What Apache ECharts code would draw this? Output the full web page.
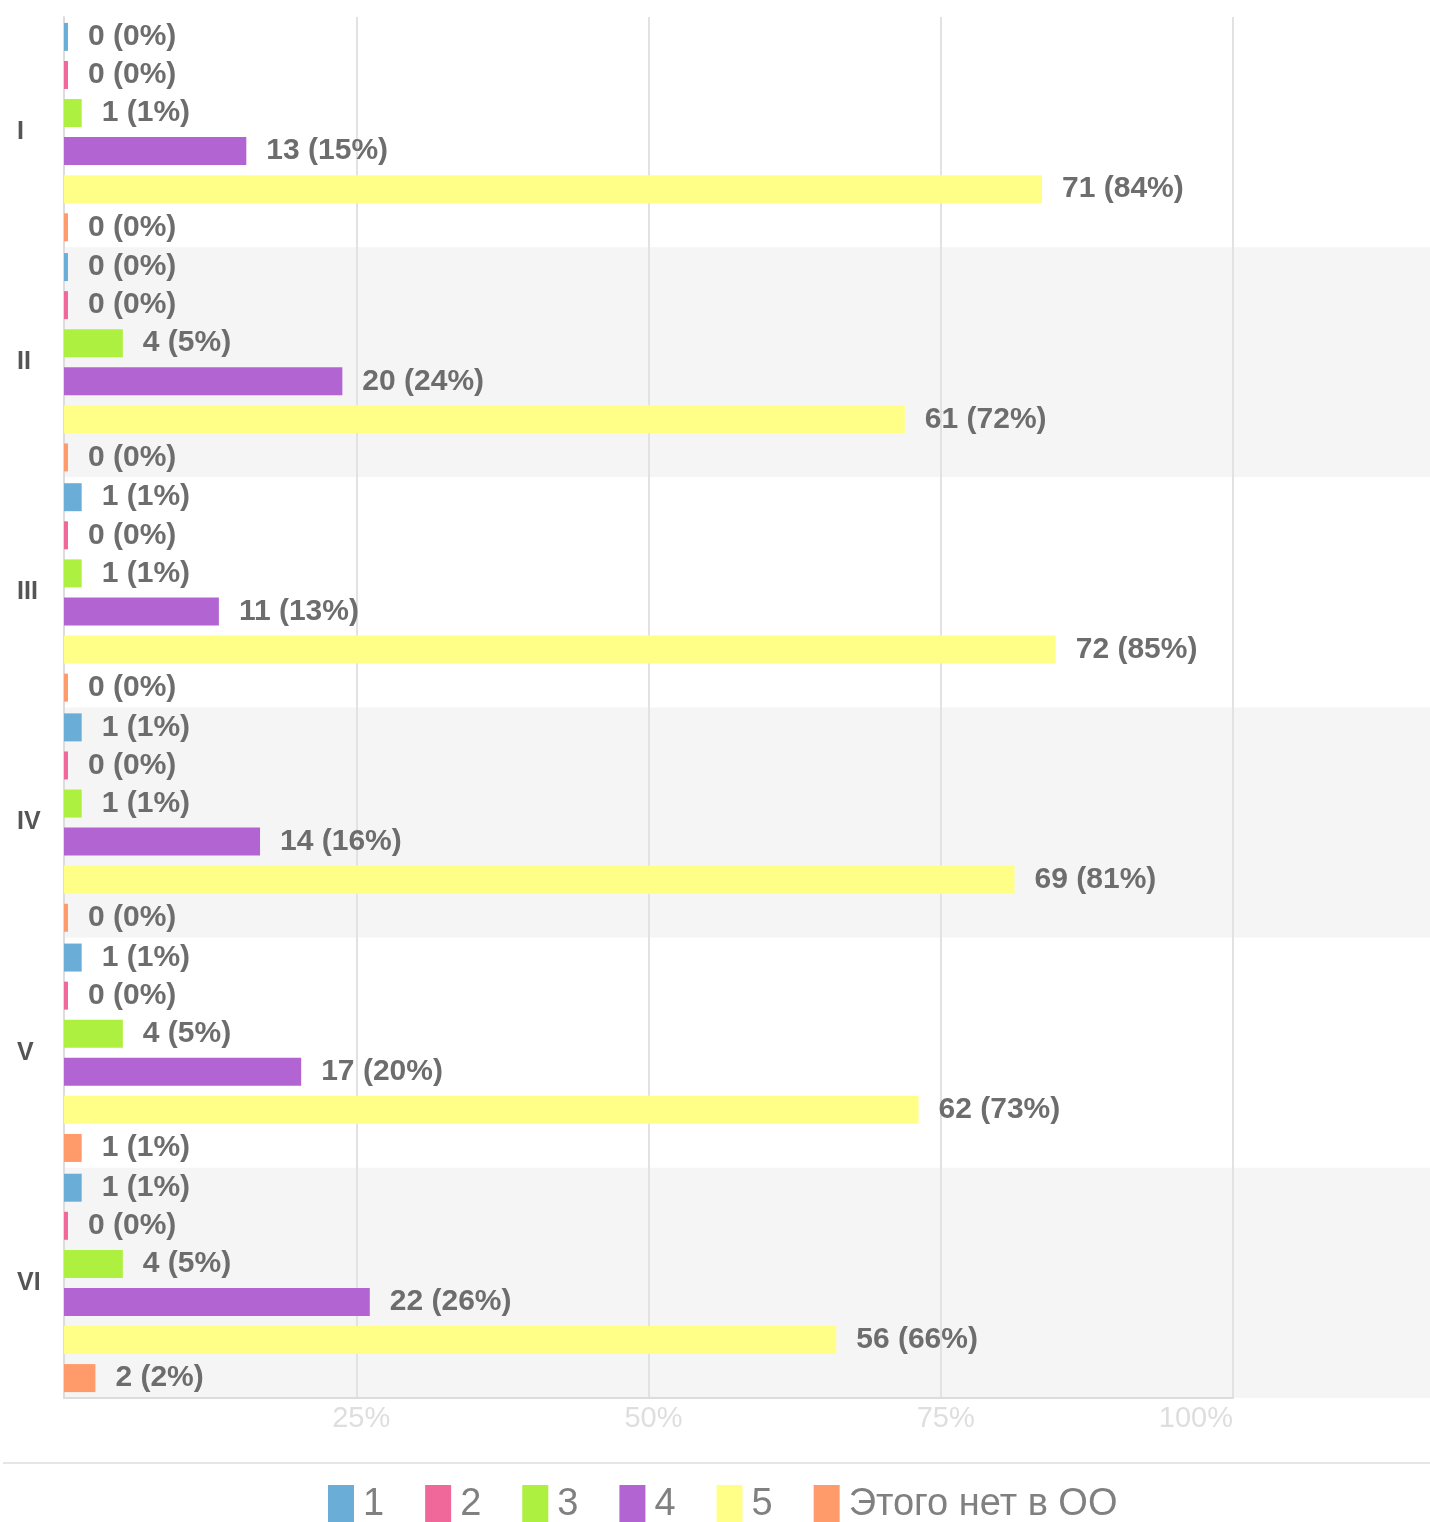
<!DOCTYPE html>
<html><head><meta charset="utf-8">
<script src="https://cdn.jsdelivr.net/npm/echarts@6/dist/echarts.min.js"></script>
<style>html,body{margin:0;padding:0;background:#fff}#c{width:1430px;height:1522px}</style>
</head><body><div id="c"></div>
<script>
const categories = ['I', 'II', 'III', 'IV', 'V', 'VI'];
const seriesNames = ['1', '2', '3', '4', '5', 'Этого нет в ОО'];
const s1 = [0, 0, 1, 1, 1, 1];
const s2 = [0, 0, 0, 0, 0, 0];
const s3 = [1, 4, 1, 1, 4, 4];
const s4 = [13, 20, 11, 14, 17, 22];
const s5 = [71, 61, 72, 69, 62, 56];
const s6 = [0, 0, 0, 0, 1, 2];
const tickLabels = [25, 50, 75, 100];
const colors = ['#6aaed8', '#f0679a', '#aef03f', '#b264d2', '#ffff88', '#ff9a6a'];

const all = [s1, s2, s3, s4, s5, s6];
const totals = categories.map((c, i) => all.reduce((a, s) => a + s[i], 0));

const chart = echarts.init(document.getElementById('c'));
const series = all.map((s, k) => ({
  name: seriesNames[k],
  type: 'bar',
  xAxisIndex: 0, yAxisIndex: 0,
  barWidth: 28,
  barGap: '36%',
  barMinHeight: 3,
  itemStyle: { color: colors[k] },
  z: 3,
  label: {
    show: true, position: 'right', distance: 20,
    fontFamily: 'Liberation Sans, Arial, sans-serif', fontWeight: 'bold', fontSize: 30,
    color: '#6d6d6d',
    formatter: p => s[p.dataIndex] + ' (' + Math.round(s[p.dataIndex] / totals[p.dataIndex] * 100) + '%)'
  },
  data: s.map((v, i) => v / totals[i] * 100)
}));

chart.setOption({
  animation: false,
  color: colors,
  grid: [
    { left: 64, right: 0, top: 17, bottom: 124, containLabel: false },
    { left: 64, right: 197, top: 17, bottom: 124, containLabel: false }
  ],
  xAxis: [
    { gridIndex: 0, type: 'value', min: -0.34, max: 116.8, startValue: -0.34, show: false, splitLine: { show: false } },
    { gridIndex: 1, type: 'value', min: 0, max: 100, interval: 25,
      axisLine: { show: true, lineStyle: { color: '#dcdcdc', width: 2 } },
      axisTick: { show: false },
      splitLine: { show: true, lineStyle: { color: '#e2e2e2', width: 2 } },
      axisLabel: { margin: 6, fontFamily: 'Liberation Sans, Arial, sans-serif', fontSize: 29, color: '#dedede',
        padding: [0, 0, 0, 10], alignMaxLabel: 'right',
        formatter: v => tickLabels.indexOf(v) >= 0 ? v + '%' : '' }
    }
  ],
  yAxis: [
    { gridIndex: 0, type: 'category', data: categories, inverse: true,
      axisLine: { show: false }, axisTick: { show: false },
      splitArea: { show: true, areaStyle: { color: ['#ffffff', '#f5f5f5'] } },
      axisLabel: { show: true, align: 'left', margin: 47, fontFamily: 'Liberation Sans, Arial, sans-serif',
        fontWeight: 'bold', fontSize: 25, color: '#555' }
    },
    { gridIndex: 1, type: 'category', data: categories, inverse: true,
      axisLine: { show: true, lineStyle: { color: '#dcdcdc', width: 2 } },
      axisTick: { show: false }, axisLabel: { show: false }, splitLine: { show: false }
    }
  ],
  legend: {
    left: 323, top: 1480,
    itemWidth: 26, itemHeight: 40, itemGap: 41,
    icon: 'rect',
    textStyle: { fontFamily: 'Liberation Sans, Arial, sans-serif', fontSize: 38, color: '#808080', padding: [0, 0, 0, 4] },
    data: seriesNames
  },
  graphic: [
    { type: 'rect', left: 3, top: 1462, shape: { width: 1427, height: 2 }, style: { fill: '#e6e6e6' } }
  ],
  series: series
});
</script></body></html>
